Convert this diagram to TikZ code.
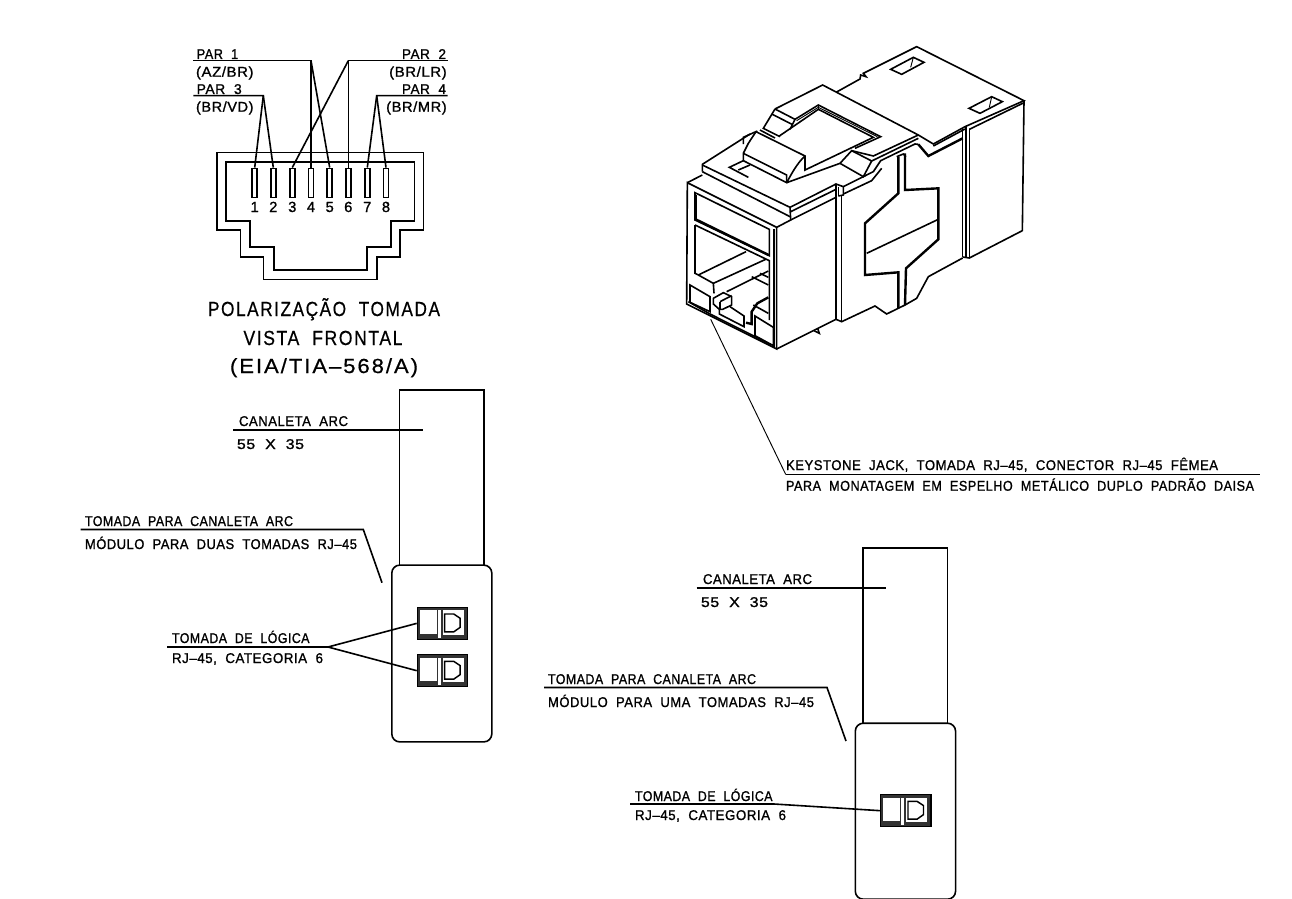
\documentclass[tikz,border=0pt]{standalone}
\usepackage{graphicx}
\usepackage{fontspec}
\setmainfont{Liberation Sans}[FakeBold=1.2,LetterSpace=4]
\newfontfamily\widefont{Liberation Sans}[FakeBold=0.6,LetterSpace=9]
\tikzset{
  lbl/.style={font=\fontsize{#1}{#1}\selectfont, inner sep=0pt, outer sep=0pt},
  lbl/.default=10.6,
  ln/.style={draw=black,line width=1.2pt,line join=miter},
  thn/.style={draw=black,line width=0.7pt,line join=miter},
  bld/.style={draw=black,line width=1.8pt,line join=miter},
  pinbox/.style={draw=black,line width=1.1pt,fill=white,minimum width=3.75pt,minimum height=21.8pt,inner sep=0pt},
  sockbox/.style={draw=black,fill=black!80,line width=1pt,minimum width=37.7pt,minimum height=24pt,inner sep=0pt},
  modbox/.style={draw=black,line width=1.2pt,rounded corners=6pt,fill=white,inner sep=0pt},
  chan/.style={draw=black,line width=1.2pt,inner sep=0pt},
}
% name, x, y, width (px), text
\newcommand{\lbw}[5]{\node[lbl,anchor=base west] (#1) at (#2,#3) {\resizebox{\dimexpr #4pt*3/4\relax}{\height}{#5}};}
\newcommand{\lbe}[5]{\node[lbl,anchor=base east] (#1) at (#2,#3) {\resizebox{\dimexpr #4pt*3/4\relax}{\height}{#5}};}
\newcommand{\sockdetail}[1]{%
  \begin{scope}[shift={(#1.north west)}]
    \fill[white] (3.3,3.6) rectangle (20,27);
    \fill[white] (20.8,3.6) rectangle (24,31.2);
    \fill[white] (26,3.6) rectangle (46.8,28);
    \draw[line width=1.1pt] (28,7.3) -- (37,7.3) -- (43.5,11.6) -- (43.5,20.6) -- (37,25.2) -- (28,25.2) -- cycle;
  \end{scope}}
\begin{document}
\begin{tikzpicture}[x=0.75pt,y=-0.75pt]
\useasboundingbox (0,0) rectangle (1292,899);
% ---------- jack front view
\draw[ln] (217,152.3) -- (423.3,152.3) -- (423.3,230) -- (400,230) -- (400,256.7) -- (376.7,256.7) -- (376.7,279.3) -- (263.5,279.3) -- (263.5,256.7) -- (240.5,256.7) -- (240.5,230) -- (217,230) -- cycle;
\draw[ln] (226,161.7) -- (414.3,161.7) -- (414.3,221) -- (391,221) -- (391,246.7) -- (367,246.7) -- (367,270) -- (273.7,270) -- (273.7,246.7) -- (250,246.7) -- (250,221) -- (226,221) -- cycle;
\foreach \n/\x in {1/254.7,2/273.3,3/292.3,4/311,5/329.7,6/348.3,7/367.3,8/386}{
  \node[pinbox] (p\n) at (\x,182.8) {};
  \node[lbl=11,anchor=base] (n\n) at (\x,212) {\n};
}
\coordinate (j1) at (311,60.7);
\coordinate (j2) at (348.3,60.7);
\coordinate (j3) at (263.3,95.7);
\coordinate (j4) at (376.7,95.7);
\coordinate (e1) at (193.3,60.7);
\coordinate (e2) at (447.7,60.7);
\coordinate (e3) at (193.3,95.7);
\coordinate (e4) at (447.7,95.7);
\draw[ln] (e1) -- (j1) -- (p4.north);
\draw[ln] (j1) -- (p5.north);
\draw[ln] (e2) -- (j2) -- (p6.north);
\draw[ln] (j2) -- (p3.north);
\draw[ln] (e3) -- (j3) -- (p1.north);
\draw[ln] (j3) -- (p2.north);
\draw[ln] (e4) -- (j4) -- (p7.north);
\draw[ln] (j4) -- (p8.north);
\lbw{t1}{196.7}{59}{41.5}{PAR\ \ 1}
\lbw{t2}{196}{76.7}{57.5}{(AZ/BR)}
\lbw{t3}{196.7}{94}{45}{PAR\ \ 3}
\lbw{t4}{196}{111.7}{57.5}{(BR/VD)}
\lbe{t5}{446}{59}{44}{PAR\ \ 2}
\lbe{t6}{446.7}{76.7}{57.5}{(BR/LR)}
\lbe{t7}{446}{94}{44}{PAR\ \ 4}
\lbe{t8}{446.7}{111.7}{60.5}{(BR/MR)}
\lbw{c1}{208}{316}{232}{\widefont\fontsize{15.3}{16}\selectfont POLARIZAÇÃO\ \ TOMADA}
\lbw{c2}{243.5}{345}{159}{\widefont\fontsize{15.3}{16}\selectfont VISTA\ \ FRONTAL}
\lbw{c3}{230}{373}{188}{\widefont\fontsize{15.3}{16}\selectfont (EIA/TIA–568/A)}
% ---------- left channel
\node[chan,anchor=north west,minimum width=63.6pt,minimum height=132pt] (ch1) at (398.5,389) {};
\node[modbox,anchor=north west,minimum width=75pt,minimum height=132.6pt] (m1) at (391,564.3) {};
\node[sockbox,anchor=north west] (s1) at (416.7,606.7) {};
\sockdetail{s1}
\node[sockbox,anchor=north west] (s2) at (416.7,654) {};
\sockdetail{s2}
\coordinate (a1) at (233,430); \coordinate (a2) at (422.5,430);
\draw[ln] (a1) -- (a2);
\lbw{d1}{239}{426}{109}{CANALETA\ \ ARC}
\lbw{d2}{237}{449}{67}{55\ \ X\ \ 35}
\coordinate (b1) at (80.7,529.5); \coordinate (b2) at (363.3,529.5); \coordinate (b3) at (382,582.7);
\draw[ln] (b1) -- (b2) -- (b3);
\lbw{d3}{85}{526}{208}{TOMADA\ \ PARA\ \ CANALETA\ \ ARC}
\lbw{d4}{85}{549}{272}{MÓDULO\ \ PARA\ \ DUAS\ \ TOMADAS\ \ RJ–45}
\coordinate (f1) at (167,647); \coordinate (f2) at (328,647);
\draw[ln] (f1) -- (f2) -- (s1.west);
\draw[ln] (f2) -- (s2.west);
\lbw{d5}{172}{643}{137.5}{TOMADA\ \ DE\ \ LÓGICA}
\lbw{d6}{172}{663}{151}{RJ–45,\ \ CATEGORIA\ \ 6}
% ---------- right channel
\node[chan,anchor=north west,minimum width=63.6pt,minimum height=132pt] (ch2) at (862,547) {};
\node[modbox,anchor=north west,minimum width=75.2pt,minimum height=132pt] (m2) at (854.5,722.4) {};
\node[sockbox,anchor=north west] (s3) at (880,794) {};
\sockdetail{s3}
\coordinate (g1) at (696.5,588); \coordinate (g2) at (886,588);
\draw[ln] (g1) -- (g2);
\lbw{e5}{703}{584}{109}{CANALETA\ \ ARC}
\lbw{e6}{701}{607}{67}{55\ \ X\ \ 35}
\coordinate (h1) at (544,687.5); \coordinate (h2) at (827,687.5); \coordinate (h3) at (846,741);
\draw[ln] (h1) -- (h2) -- (h3);
\lbw{e7}{548}{684}{208}{TOMADA\ \ PARA\ \ CANALETA\ \ ARC}
\lbw{e8}{548}{707}{266}{MÓDULO\ \ PARA\ \ UMA\ \ TOMADAS\ \ RJ–45}
\coordinate (k1) at (630,804); \coordinate (k2) at (774,804);
\draw[ln] (k1) -- (k2) -- (s3.west);
\lbw{e9}{635}{801}{137.5}{TOMADA\ \ DE\ \ LÓGICA}
\lbw{e10}{635}{820}{151}{RJ–45,\ \ CATEGORIA\ \ 6}
% ---------- keystone label
\coordinate (q0) at (710.7,319.3); \coordinate (q1) at (785.7,474.4); \coordinate (q2) at (1260,474.4);
\draw[thn] (q0) -- (q1);
\draw[ln] (q1) -- (q2);
\lbw{g1t}{786}{470}{432}{KEYSTONE\ \ JACK,\ \ TOMADA\ \ RJ–45,\ \ CONECTOR\ \ RJ–45\ \ FÊMEA}
\lbw{g2t}{786}{490.7}{468}{PARA\ \ MONATAGEM\ \ EM\ \ ESPELHO\ \ METÁLICO\ \ DUPLO\ \ PADRÃO\ \ DAISA}
% ---------- keystone drawing, upper part (crop coordinates)
\begin{scope}[shift={(670,30)},x=0.25pt,y=-0.25pt]
  % rear body top
  \draw[ln] (498,187) -- (570,147) -- (572,135) -- (588,140) -- (580,130) -- (740,50) -- (1062,212) -- (885,290) -- (790,342) -- (745,315) -- (458,165) -- (315,237);
  \draw[ln] (662,118) -- (730,82) -- (762,97) -- (695,133) -- cycle;
  \draw[thn] (730,82) -- (722,112);
  \draw[ln] (897,235) -- (965,200) -- (997,215) -- (930,250) -- cycle;
  \draw[thn] (965,200) -- (958,232);
  \draw[ln] (1062,218) -- (898,298);
  \draw[ln] (885,297) -- (790,348);
  \draw[bld] (745,343) -- (775,378) -- (878,325);
  \draw[ln] (1062,212) -- (1057,602) -- (898,684) -- (878,681);
  \draw[ln] (878,294) -- (878,681);
  \draw[ln] (888,290) -- (888,684);
  \draw[ln] (898,298) -- (898,684);
  % cover
  \draw[ln] (315,237) -- (280,295) -- (330,320);
  \draw[ln] (315,237) -- (375,268) -- (360,298);
  \draw[ln] (305,252) -- (368,284);
  \draw[ln] (270,300) -- (315,324);
  \draw[ln] (262,303) -- (220,322) -- (220,342);
  \draw[ln] (240,312) -- (97,403) -- (97,425);
  % window
  \draw[ln] (375,268) -- (445,225) -- (632,320) -- (555,355);
  \draw[ln] (328,318) -- (445,238) -- (610,322) -- (405,420) -- (405,378) -- (258,305);
  \draw[thn] (445,225) -- (445,238);
  \draw[thn] (380,272) -- (445,232) -- (622,320);
  % lever
  \draw[ln] (258,305) -- (235,340) -- (220,370) -- (220,392) -- (350,458) .. controls (360,440) and (380,400) .. (405,378);
  \draw[ln] (220,370) -- (350,435) -- (350,458);
  \draw[ln] (220,392) -- (178,412) -- (235,442);
  \draw[ln] (205,420) -- (240,405);
  \draw[ln] (350,458) -- (510,400) -- (545,362) -- (605,393) -- (580,440) -- (510,400);
  \draw[ln] (545,362) -- (610,378) -- (745,315);
  \draw[ln] (605,393) -- (745,325);
  \draw[ln] (580,440) -- (610,425) -- (632,392) -- (735,342) -- (745,343);
  \draw[ln] (680,380) -- (700,372) -- (708,380);
\end{scope}
% ---------- keystone drawing, lower part (crop coordinates)
\begin{scope}[shift={(670,170)},x=0.25pt,y=-0.25pt]
  % front face
  \draw[ln] (52,38) -- (320,172) -- (320,537) -- (50,402) -- cycle;
  \draw[ln] (312,178) -- (312,533);
  \draw[ln] (320,172) -- (362,150) -- (360,112) -- (498,42) -- (520,50) -- (520,75) -- (505,78);
  \draw[ln] (362,125) -- (498,58);
  \draw[ln] (362,150) -- (498,82);
  \draw[ln] (505,50) -- (505,78);
  \draw[ln] (520,50) -- (590,15);
  \draw[ln] (520,72) -- (605,32) -- (635,-5);
  \draw[ln] (97,5) -- (360,140);
  \draw[ln] (97,-15) -- (360,112);
  \draw[ln] (52,38) -- (97,15);
  % window
  \draw[ln] (75,68) -- (298,178) -- (298,257) -- (75,150) -- cycle;
  \draw[bld] (77,75) -- (77,148) -- (296,255);
  \draw[ln] (75,165) -- (298,272) -- (298,450);
  \draw[ln] (75,165) -- (75,310) -- (85,315) -- (130,340) -- (132,370);
  % interior
  \draw[ln] (85,315) -- (228,245);
  \draw[ln] (130,340) -- (287,268);
  \draw[ln] (170,365) -- (295,303);
  \draw[ln] (245,320) -- (295,345);
  \draw[ln] (270,310) -- (295,322);
  \draw[ln,fill=white] (130,385) -- (160,368) -- (185,380) -- (185,405) -- (158,418) -- (148,418) -- (130,402) -- cycle;
  \draw[ln] (150,395) -- (185,377);
  \draw[ln] (150,395) -- (150,418);
  \draw[ln] (148,418) -- (148,432) -- (222,470) -- (222,438) -- (180,410);
  \draw[bld] (228,458) -- (245,462) -- (245,425) -- (262,400) -- (295,382);
  \draw[ln] (250,405) -- (295,430);
  \draw[ln,fill=white] (60,345) -- (120,380) -- (120,425) -- (60,397) -- cycle;
  \draw[ln,fill=white] (255,438) -- (310,472) -- (310,527) -- (255,497) -- cycle;
  \draw[ln] (55,395) -- (120,432) -- (305,525);
  % side
  \draw[ln] (498,42) -- (498,448);
  \draw[ln] (515,75) -- (515,455);
  \draw[ln] (320,537) -- (498,448) -- (515,455) -- (615,408) -- (650,432) -- (705,405) -- (740,385) -- (775,320) -- (878,264);
  \draw[ln] (432,482) -- (448,490) -- (443,475);
  % side cut-out
  \draw[bld] (685,-40) -- (685,70) -- (585,160) -- (585,315) -- (685,307) -- (685,415);
  \draw[bld] (705,-50) -- (705,60) -- (805,55) -- (805,208) -- (708,295) -- (705,405);
  \draw[ln] (590,250) -- (805,148);
\end{scope}
\end{tikzpicture}
\end{document}
